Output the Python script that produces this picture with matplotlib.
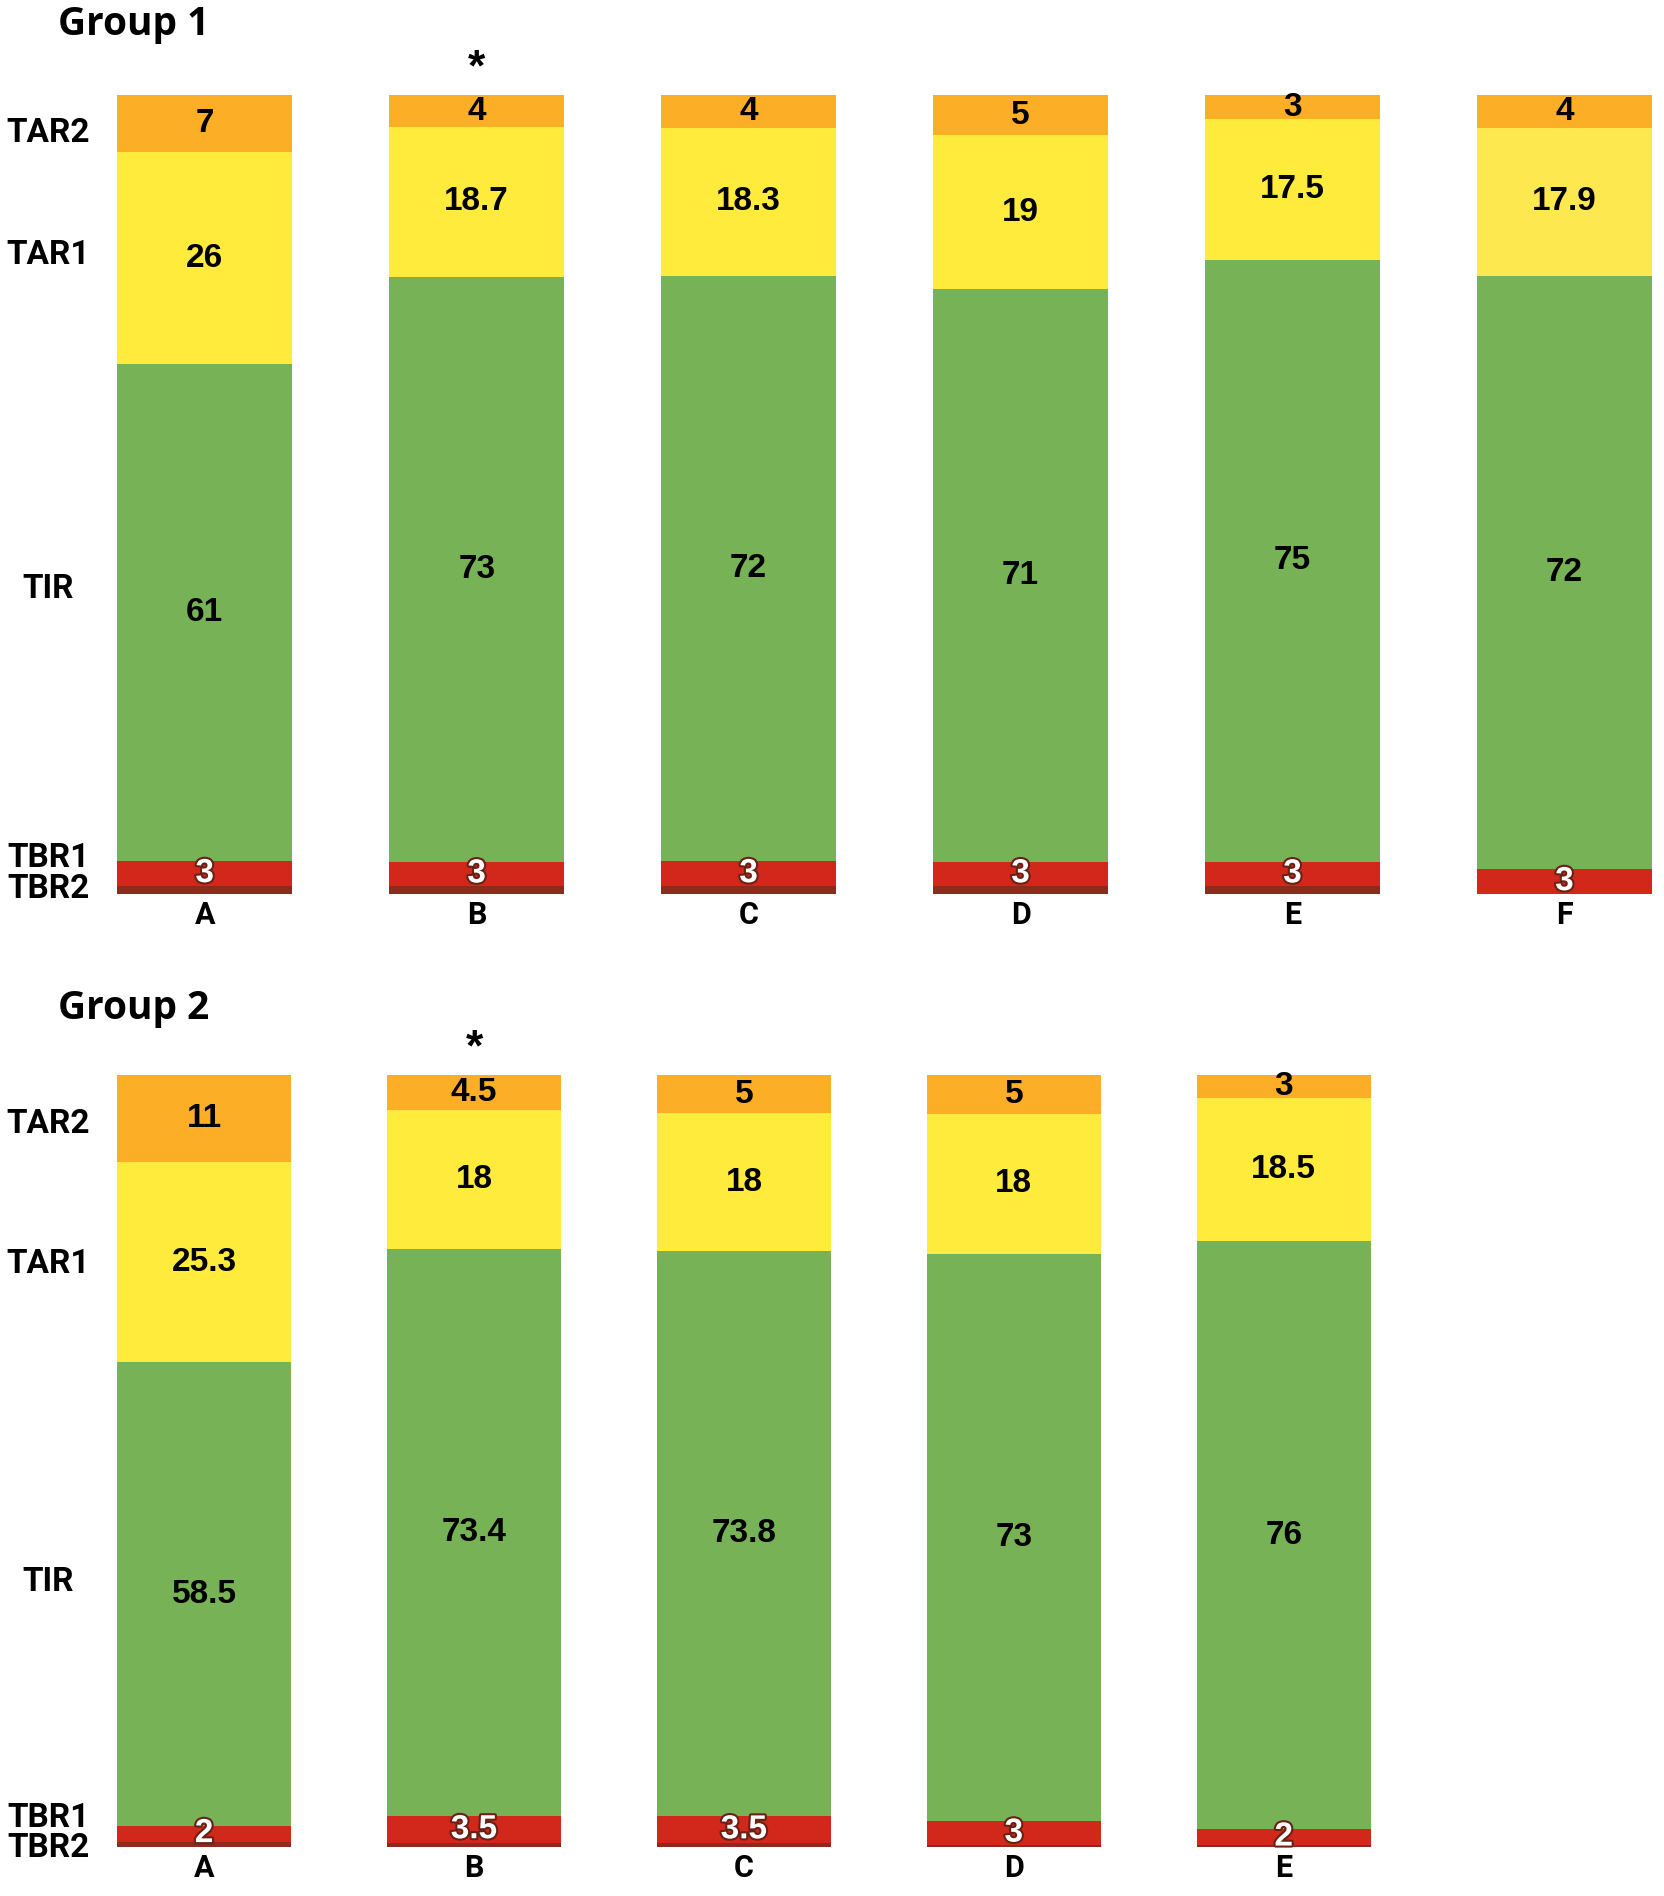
import matplotlib
matplotlib.use("Agg")
import numpy as np
import matplotlib.pyplot as plt
import matplotlib.patheffects as pe
from matplotlib import font_manager as fm

# Data (percent of time in each range, as labelled on the chart)
segments = ["TBR2", "TBR1", "TIR", "TAR1", "TAR2"]

g1_labels = ["A", "B", "C", "D", "E", "F"]
g1_tbr2 = [1, 1, 1, 1, 1, 0]
g1_tbr1 = [3, 3, 3, 3, 3, 3]
g1_tir = [61, 73, 72, 71, 75, 72]
g1_tar1 = [26, 18.7, 18.3, 19, 17.5, 17.9]
g1_tar2 = [7, 4, 4, 5, 3, 4]

g2_labels = ["A", "B", "C", "D", "E"]
g2_tbr2 = [0.7, 0.5, 0.5, 0.3, 0.3]
g2_tbr1 = [2, 3.5, 3.5, 3, 2]
g2_tir = [58.5, 73.4, 73.8, 73, 76]
g2_tar1 = [25.3, 18, 18, 18, 18.5]
g2_tar2 = [11, 4.5, 5, 5, 3]

starred = {"Group 1": "B", "Group 2": "B"}

# Colours
COLORS = {
    "TBR2": "#8e2a1c",
    "TBR1": "#d2281c",
    "TIR": "#78b257",
    "TAR1": "#ffeb3b",
    "TAR2": "#fbae26",
}
F_YELLOW = "#fde94f"


def bold_family(candidates):
    """First family in the list that has a real bold face installed."""
    for name in candidates:
        for f in fm.fontManager.ttflist:
            if f.name == name and (f.weight in ("bold", 700) or str(f.weight).isdigit() and int(f.weight) >= 700):
                return name
    return "DejaVu Sans"


TITLE_FONT = bold_family(["Noto Sans", "Open Sans", "Lato", "Roboto", "Liberation Sans"])
NUM_FONT = bold_family(["Liberation Sans", "Roboto"])
NARROW = bold_family(["Liberation Sans Narrow", "Roboto", "Liberation Sans"])
NARROW_SIZE = 27 if NARROW == "Liberation Sans Narrow" else 24

W, H = 1665, 1896
fig = plt.figure(figsize=(W / 100, H / 100), dpi=100)
fig.patch.set_facecolor("white")

BAR_W = 0.645


def draw_group(rect, name, labels, tbr2, tbr1, tir, tar1, tar2):
    ax = fig.add_axes(rect)
    n = len(labels)
    x = np.arange(n)
    data = np.array([tbr2, tbr1, tir, tar1, tar2], dtype=float)
    totals = data.sum(axis=0)
    pct = data / totals * 100  # each bar fills the full height

    bottom = np.zeros(n)
    for seg, vals, raw in zip(segments, pct, data):
        cols = [COLORS[seg]] * n
        if seg == "TAR1" and name == "Group 1":
            cols[-1] = F_YELLOW
        ax.bar(x, vals, BAR_W, bottom=bottom, color=cols, edgecolor="none", linewidth=0)
        if seg != "TBR2":
            for i in range(n):
                if raw[i] <= 0:
                    continue
                yc = bottom[i] + vals[i] / 2
                txt = f"{raw[i]:g}"
                if seg == "TBR1":
                    ax.text(x[i], yc, txt, ha="center", va="center", color="white",
                            fontsize=24, fontweight="bold", family=NUM_FONT,
                            path_effects=[pe.withStroke(linewidth=3, foreground="#6b2015")])
                else:
                    ax.text(x[i], yc, txt, ha="center", va="center", color="black",
                            fontsize=24, fontweight="bold", family=NUM_FONT)
        bottom += vals

    star_i = labels.index(starred[name])
    ax.text(x[star_i], 100.7, "*", ha="center", va="bottom", fontsize=32,
            fontweight="bold", family=NUM_FONT, clip_on=False)

    ax.set_xlim(-BAR_W / 2, n - 1 + BAR_W / 2)
    ax.set_ylim(0, 100)
    ax.set_xticks(x)
    ax.set_xticklabels(labels, fontsize=22, fontweight="bold", family=NARROW)
    ax.tick_params(axis="x", length=0, pad=4)
    ax.set_yticks([])
    for s in ax.spines.values():
        s.set_visible(False)
    return ax


def frac_y(px):
    # displayed-reference pixel row -> figure fraction
    return 1 - px / 1571.5


draw_group([0.0703, 0.5285, 0.922, 0.4214], "Group 1",
           g1_labels, g1_tbr2, g1_tbr1, g1_tir, g1_tar1, g1_tar2)
draw_group([0.0703, 0.0258, 0.753, 0.4072], "Group 2",
           g2_labels, g2_tbr2, g2_tbr1, g2_tir, g2_tar1, g2_tar2)

# Titles
fig.text(0.0348, frac_y(20), "Group 1", ha="left", va="center", fontsize=28,
         fontweight="bold", family=TITLE_FONT)
fig.text(0.0348, frac_y(836), "Group 2", ha="left", va="center", fontsize=28,
         fontweight="bold", family=TITLE_FONT)

# Row labels on the left
row_pos = {
    "Group 1": [110, 211, 488, 711, 737],
    "Group 2": [932, 1048, 1311, 1507, 1532],
}
row_names = ["TAR2", "TAR1", "TIR", "TBR1", "TBR2"]
for grp, ys in row_pos.items():
    for nm, yy in zip(row_names, ys):
        fig.text(0.029, frac_y(yy), nm, ha="center", va="center",
                 fontsize=NARROW_SIZE, fontweight="bold", family=NARROW)

fig.savefig("out.png", dpi=100, facecolor="white")
